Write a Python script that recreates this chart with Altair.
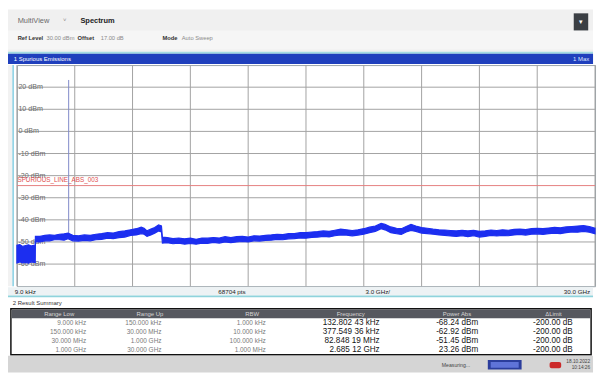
import altair as alt
import pandas as pd

# ---------------- data ----------------
freq_ghz = [0.00, 0.15, 0.30, 0.45, 0.60, 0.75, 0.95, 0.96, 1.20, 1.45,
            1.70, 1.95, 2.20, 2.45, 2.65, 2.90, 3.20, 3.50, 3.80, 4.10,
            4.40, 4.70, 5.00, 5.30, 5.60, 5.90, 6.20, 6.45, 6.60, 6.75,
            6.95, 7.15, 7.35, 7.50, 7.55, 7.80, 8.10, 8.40, 8.70, 9.00,
            9.30, 9.60, 9.90, 10.20, 10.50, 10.80, 11.10, 11.40, 11.70, 12.00,
            12.30, 12.60, 12.90, 13.20, 13.50, 13.80, 14.10, 14.40, 14.70, 15.00,
            15.30, 15.60, 15.90, 16.20, 16.50, 16.80, 17.10, 17.40, 17.70, 18.00,
            18.30, 18.60, 18.90, 19.10, 19.40, 19.70, 19.95, 20.20, 20.45, 20.70,
            21.00, 21.30, 21.60, 21.90, 22.20, 22.50, 22.80, 23.10, 23.40, 23.70,
            24.00, 24.30, 24.60, 24.90, 25.20, 25.50, 25.80, 26.10, 26.40, 26.70,
            27.00, 27.30, 27.60, 27.90, 28.20, 28.50, 28.80, 29.10, 29.40, 29.70, 30.00]
level_lo = [-59.5, -59, -59.5, -59.2, -59.6, -59, -59.3, -50, -50, -49.5,
            -49.5, -49, -49, -49.2, -48.5, -49.5, -49.6, -49.3, -49.5, -49,
            -48.8, -48.3, -48.5, -48, -47.8, -47, -46.8, -46.2, -46.5, -47.5,
            -46.8, -46, -45, -45.5, -50.5, -50.3, -50.8, -50.5, -51, -50.7,
            -51, -50.5, -50.6, -50.2, -50.5, -50, -50.3, -50, -49.8, -50,
            -49.5, -49.6, -49.3, -49.2, -48.8, -49, -48.6, -48.5, -48.2, -48.3,
            -47.9, -47.8, -47.5, -47.7, -47.2, -46.8, -46.9, -47.2, -46.9, -46.5,
            -45.8, -45.2, -44, -44.5, -45.8, -46.3, -46.6, -45.5, -44.8, -45.2,
            -46, -46.2, -46.5, -46.8, -47, -47.3, -47.5, -47.2, -47.6, -47.2,
            -47.8, -47.5, -47, -47.3, -47, -47.2, -46.8, -46.6, -46.9, -46.5,
            -46.3, -46.6, -46.2, -46, -46.2, -45.8, -45.5, -45.6, -45.2, -45.6, -46.3]
level_hi = [-51.5, -51.2, -52, -51.6, -51.3, -51.8, -51.4, -47.5, -47.5, -47,
            -46.8, -47, -46.5, -46.3, -46, -47, -47.2, -46.8, -47, -46.5,
            -46.2, -45.8, -46, -45.3, -45, -44.5, -44, -43.3, -43.8, -45,
            -44.2, -43.5, -42.3, -42.8, -47.8, -48, -48.5, -48.2, -48.6, -48.3,
            -48.8, -48.2, -48.3, -48, -48.2, -47.6, -48, -47.6, -47.5, -47.8,
            -47.2, -47.3, -47, -46.8, -46.5, -46.7, -46.2, -46.2, -45.8, -45.8,
            -45.5, -45.3, -45, -45.2, -44.7, -44.2, -44.5, -44.8, -44.5, -44,
            -43.3, -42.8, -41.6, -42, -43.2, -43.8, -44, -43, -42, -42.8,
            -43.5, -43.8, -44.2, -44.5, -44.6, -44.8, -45, -44.7, -45, -44.8,
            -45.2, -45, -44.6, -44.8, -44.5, -44.7, -44.3, -44.2, -44.4, -44,
            -43.8, -44, -43.7, -43.4, -43.6, -43.2, -43, -42.8, -42.6, -43, -43.8]

carrier_ghz = 2.68512
carrier_dbm = 23.26
carrier_base_dbm = -47.0
limit_dbm = -24.5
limit_name = "SPURIOUS_LINE_ABS_003"

y_grid = [20, 10, 0, -10, -20, -30, -40, -50, -60]
y_labels = ["20 dBm", "10 dBm", "0 dBm", "-10 dBm", "-20 dBm", "-30 dBm",
            "-40 dBm", "-50 dBm", "-60 dBm"]
x_grid = [0, 3, 6, 9, 12, 15, 18, 21, 24, 27, 30]

col_names = ["Range Low", "Range Up", "RBW", "Frequency", "Power Abs", "\u0394Limit"]
range_low = ["9.000 kHz", "150.000 kHz", "30.000 MHz", "1.000 GHz"]
range_up = ["150.000 kHz", "30.000 MHz", "1.000 GHz", "30.000 GHz"]
rbw = ["1.000 kHz", "10.000 kHz", "100.000 kHz", "1.000 MHz"]
peak_freq = ["132.802 43 kHz", "377.549 36 kHz", "82.848 19 MHz", "2.685 12 GHz"]
power_abs = ["-68.24 dBm", "-62.92 dBm", "-51.45 dBm", "23.26 dBm"]
delta_limit = ["-200.00 dB", "-200.00 dB", "-200.00 dB", "-200.00 dB"]

# ---------------- layout helpers ----------------
FONT = "Liberation Sans"
SX = 590 / 606
SY = 364 / 380
W = 590
HEAD_H = 55
PLOT_H = 223
FOOT_H = 364 - HEAD_H - PLOT_H
STRIP_W = 6
PLOT_W = 583
FOOT_Y0 = 290.25

ONE = pd.DataFrame({"k": [0]})


def box(x1, y1, x2, y2, fill, **kw):
    return alt.Chart(ONE).mark_rect(fill=fill, **kw).encode(
        x=alt.value(x1), x2=alt.value(x2), y=alt.value(y1), y2=alt.value(y2))


def txt(x, y, s, size=6.5, color="#333333", weight="normal", align="left"):
    return alt.Chart(ONE).mark_text(
        text=s, fontSize=size, color=color, fontWeight=weight, align=align,
        baseline="middle", font=FONT).encode(x=alt.value(x), y=alt.value(y))


def hx(r):
    return r * SX


def hy(r):
    return r * SY


def fy(r):
    return (r - FOOT_Y0) * SY


# ---------------- header ----------------
header = alt.layer(
    box(0, 0, W, hy(46), "#f0f0f0"),
    box(0, hy(22), W, hy(42), "#f6f6f6"),
    box(0, hy(44.5), W, hy(46.5), "#a3dbe2"),
    box(0, hy(46.5), W, HEAD_H, "#1f3fbd"),
    box(hx(586), hy(4), hx(601), hy(22), "#3b3f44"),
    txt(hx(593.5), hy(13), "\u25be", 7, "#ffffff", align="center"),
    txt(hx(10), hy(12), "MultiView", 7.5, "#6a6a6a"),
    txt(hx(57), hy(11), "\u02c5", 6, "#888888"),
    txt(hx(75), hy(12), "Spectrum", 7.5, "#222222", "bold"),
    txt(hx(10), hy(30), "Ref Level", 5.8, "#333333", "bold"),
    txt(hx(40), hy(30), "30.00 dBm", 5.8, "#8a8a8a"),
    txt(hx(72), hy(30), "Offset", 5.8, "#333333", "bold"),
    txt(hx(96), hy(30), "17.00 dB", 5.8, "#8a8a8a"),
    txt(hx(160), hy(30), "Mode", 5.8, "#333333", "bold"),
    txt(hx(180), hy(30), "Auto Sweep", 5.8, "#8a8a8a"),
    txt(hx(6), hy(52), "1 Spurious Emissions", 6, "#ffffff"),
    txt(hx(602), hy(52), "1 Max", 6, "#dfe6ff", align="right"),
).properties(width=W, height=HEAD_H)

# ---------------- plot ----------------
xs = alt.Scale(domain=[0, 30], nice=False, zero=False)
ys = alt.Scale(domain=[-70, 30], nice=False, zero=False)

trace_df = pd.DataFrame({"f": freq_ghz, "lo": level_lo, "hi": level_hi})
vgrid_df = pd.DataFrame({"f": x_grid})
hgrid_df = pd.DataFrame({"v": y_grid, "lab": y_labels})
carrier_df = pd.DataFrame({"f": [carrier_ghz], "lo": [carrier_base_dbm], "hi": [carrier_dbm]})
limit_df = pd.DataFrame({"v": [limit_dbm], "name": [limit_name]})

vgrid = alt.Chart(vgrid_df).mark_rule(color="#a2a2a2", strokeWidth=1).encode(
    x=alt.X("f:Q", scale=xs, axis=None))
hgrid = alt.Chart(hgrid_df).mark_rule(color="#a2a2a2", strokeWidth=1).encode(
    y=alt.Y("v:Q", scale=ys, axis=None))
ylab = alt.Chart(hgrid_df).mark_text(
    align="left", baseline="middle", fontSize=7.2, color="#6a6a6a", font=FONT
).encode(x=alt.value(1.5), y=alt.Y("v:Q", scale=ys, axis=None), text="lab:N")
limit_rule = alt.Chart(limit_df).mark_rule(color="#e58080", strokeWidth=1).encode(
    y=alt.Y("v:Q", scale=ys, axis=None))
limit_text = alt.Chart(limit_df).mark_text(
    align="left", baseline="middle", fontSize=6.4, color="#e04f4f", font=FONT, dy=-5.5
).encode(x=alt.value(0.5), y=alt.Y("v:Q", scale=ys, axis=None), text="name:N")
trace = alt.Chart(trace_df).mark_area(
    color="#1c2ef0", stroke="#1c2ef0", strokeWidth=1.2, opacity=1
).encode(
    x=alt.X("f:Q", scale=xs, axis=None),
    y=alt.Y("lo:Q", scale=ys, axis=None),
    y2="hi:Q",
)
carrier = alt.Chart(carrier_df).mark_rule(color="#7f8ac8", strokeWidth=1).encode(
    x=alt.X("f:Q", scale=xs, axis=None),
    y=alt.Y("lo:Q", scale=ys, axis=None),
    y2="hi:Q",
)

plot = alt.layer(vgrid, hgrid, limit_rule, ylab, limit_text, carrier, trace).properties(
    width=PLOT_W, height=PLOT_H,
    view=alt.ViewBackground(fill="#ffffff", stroke="#9aa4aa", strokeWidth=1),
)

strip = alt.layer(
    box(0, 0, STRIP_W, PLOT_H, "#f2f2f2"),
    box(STRIP_W - 1.6, 0, STRIP_W, PLOT_H, "#8fd3e6"),
).properties(width=STRIP_W, height=PLOT_H)

middle = alt.hconcat(strip, plot, spacing=0)

# ---------------- footer ----------------
row_scale = alt.Scale(domain=[0, 3], range=[fy(328.5), fy(356.5)], nice=False, zero=False)
col_right = [81, 159, 267, 385, 487, 585]
col_center = [53, 147, 253, 355, 465, 565]
col_data = [range_low, range_up, rbw, peak_freq, power_abs, delta_limit]

table_layers = []
for i, vals in enumerate(col_data):
    df = pd.DataFrame({"row": list(range(len(vals))), "t": vals})
    big = i >= 3
    table_layers.append(
        alt.Chart(df).mark_text(
            align="right", baseline="middle", font=FONT,
            fontSize=8.2 if big else 6.5,
            color="#151515" if big else "#7a7a7a",
        ).encode(
            x=alt.value(hx(col_right[i])),
            y=alt.Y("row:Q", scale=row_scale, axis=None),
            text="t:N",
        )
    )

head_layers = [txt(hx(c), fy(318.5), n, 6, "#d6d6d6", align="center")
               for c, n in zip(col_center, col_names)]

footer = alt.layer(
    box(0, 0, W, fy(299), "#edf2f4"),
    box(0, fy(299), W, fy(301), "#8fd3dc"),
    box(0, fy(301), W, fy(313), "#ffffff"),
    box(hx(3), fy(313), hx(604), fy(361.5), "#ffffff", stroke="#111111", strokeWidth=1.5),
    box(hx(3.8), fy(313.8), hx(603.2), fy(323), "#56585f"),
    box(0, fy(362.5), W, FOOT_H, "#d5d5d5"),
    txt(hx(7), fy(295), "9.0 kHz", 6.3, "#222222"),
    txt(hx(232), fy(295), "68704 pts", 6.3, "#222222", align="center"),
    txt(hx(383), fy(295), "3.0 GHz/", 6.3, "#222222", align="center"),
    txt(hx(603), fy(295), "30.0 GHz", 6.3, "#222222", align="right"),
    txt(hx(5), fy(307), "2 Result Summary", 6, "#333333"),
    *head_layers,
    *table_layers,
    txt(hx(464), fy(372), "Measuring...", 5.2, "#444444", align="center"),
    box(hx(497), fy(367), hx(532), fy(377), "#2b3d9c"),
    box(hx(500), fy(369), hx(529), fy(375), "#5f73d8"),
    box(hx(561), fy(369), hx(573), fy(375.5), "#cc2a2a", cornerRadius=2),
    txt(hx(603), fy(368.5), "18.10.2022", 4.8, "#444444", align="right"),
    txt(hx(603), fy(375.5), "10:14:26", 4.8, "#444444", align="right"),
).properties(width=W, height=FOOT_H)

chart = alt.vconcat(header, middle, footer, spacing=0).properties(
    padding=0, background="#ffffff"
).configure_view(stroke=None)

chart.save("out.html", embed_options={"renderer": "svg", "actions": False})
